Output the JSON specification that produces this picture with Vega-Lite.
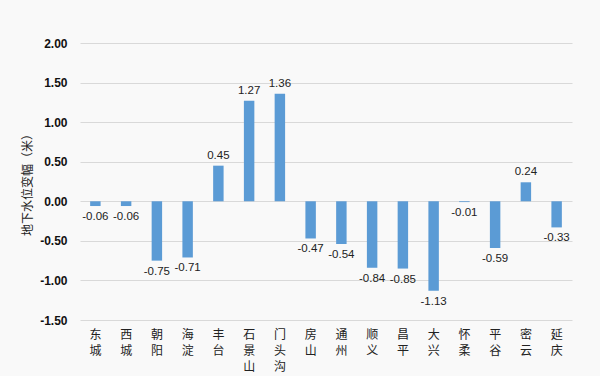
{
  "$schema": "https://vega.github.io/schema/vega-lite/v6.json",
  "width": 492,
  "height": 277,
  "autosize": {"type": "none"},
  "padding": {"left": 80, "top": 43, "right": 28, "bottom": 56},
  "background": "#f9f9f9",
  "data": {"values": [
    {"d": "东城", "v": -0.06},
    {"d": "西城", "v": -0.06},
    {"d": "朝阳", "v": -0.75},
    {"d": "海淀", "v": -0.71},
    {"d": "丰台", "v": 0.45},
    {"d": "石景山", "v": 1.27},
    {"d": "门头沟", "v": 1.36},
    {"d": "房山", "v": -0.47},
    {"d": "通州", "v": -0.54},
    {"d": "顺义", "v": -0.84},
    {"d": "昌平", "v": -0.85},
    {"d": "大兴", "v": -1.13},
    {"d": "怀柔", "v": -0.01},
    {"d": "平谷", "v": -0.59},
    {"d": "密云", "v": 0.24},
    {"d": "延庆", "v": -0.33}
  ]},
  "config": {
    "view": {"stroke": null},
    "locale": {"number": {"decimal": ".", "thousands": ",", "grouping": [3], "currency": ["$", ""], "minus": "-"}}
  },
  "encoding": {
    "x": {"field": "d", "type": "nominal", "sort": null,
      "scale": {"paddingInner": 0.66, "paddingOuter": 0.33},
      "axis": {"title": null, "labelAngle": 0, "domain": false, "ticks": false,
        "labelExpr": "split(datum.label, '')", "labelFont": "Noto Sans CJK SC",
        "labelFontSize": 12, "labelColor": "#222222", "labelLineHeight": 16,
        "labelPadding": 9, "labelBaseline": "top"}},
    "y": {"field": "v", "type": "quantitative",
      "scale": {"domain": [-1.5, 2.0], "nice": false},
      "axis": {"values": [-1.5, -1, -0.5, 0, 0.5, 1, 1.5, 2], "format": ".2f",
        "title": "地下水位变幅（米）", "titleFont": "Noto Sans CJK SC", "titleFontSize": 12,
        "titleFontWeight": "normal", "titleColor": "#222222", "titlePadding": 5,
        "labelFont": "Liberation Sans", "labelFontWeight": "bold", "labelFontSize": 12,
        "labelColor": "#111111", "labelPadding": 13, "domain": false, "ticks": false,
        "gridColor": "#d9d9d9", "gridWidth": 1}}
  },
  "layer": [
    {"mark": {"type": "bar", "color": "#5b9bd5"}},
    {"transform": [{"filter": "datum.v >= 0"}],
      "mark": {"type": "text", "baseline": "bottom", "dy": -5, "font": "Liberation Sans", "fontSize": 11.5, "color": "#222222"},
      "encoding": {"text": {"field": "v", "type": "quantitative", "format": ".2f"}}},
    {"transform": [{"filter": "datum.v < 0"}],
      "mark": {"type": "text", "baseline": "top", "dy": 5, "font": "Liberation Sans", "fontSize": 11.5, "color": "#222222"},
      "encoding": {"text": {"field": "v", "type": "quantitative", "format": ".2f"}}}
  ]
}
